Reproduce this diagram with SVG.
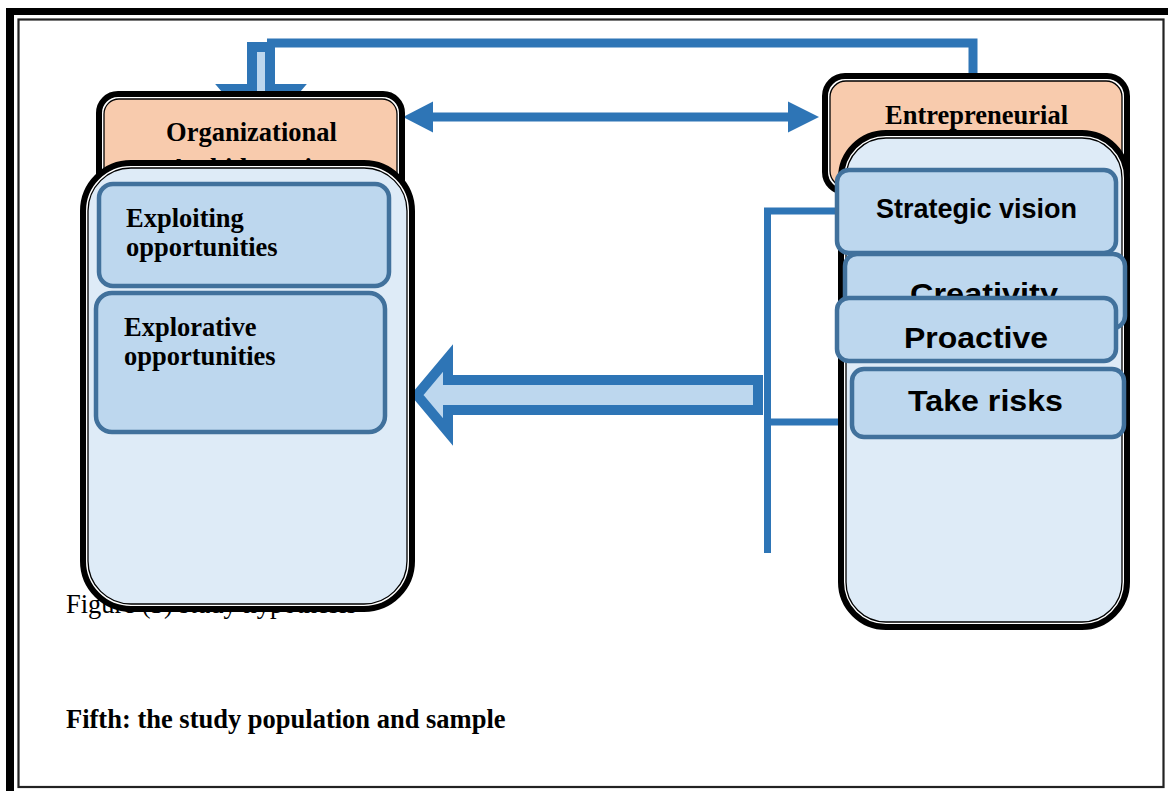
<svg xmlns="http://www.w3.org/2000/svg" width="1168" height="791" viewBox="0 0 1168 791">
<style>
.serif{font-family:"Liberation Serif","Times New Roman",serif;font-size:26.5px;fill:#000}
.b{font-weight:bold}
.sans{font-family:"Liberation Sans",Arial,sans-serif;font-weight:bold;fill:#000}
.conn{stroke:#2E75B6;fill:none;stroke-linejoin:miter;stroke-miterlimit:10}
.head{fill:#2E75B6}
.hollow{stroke:#2E75B6;stroke-width:10;fill:#BDD7EE;stroke-linejoin:miter;stroke-miterlimit:10}
.outer{fill:#fff;stroke:#000;stroke-width:6}
.innerO{fill:#F8CBAD;stroke:#000;stroke-width:1.3}
.innerB{fill:#DEEBF7;stroke:#000;stroke-width:1.3}
.item{fill:#BDD7EE;stroke:#41719C;stroke-width:4.5}
</style>
<rect x="0" y="0" width="1168" height="791" fill="#fff"/>
<g id="page-border">
<rect x="6" y="8" width="8" height="783" fill="#000"/>
<rect x="6" y="8" width="1162" height="7" fill="#000"/>
<rect x="18.5" y="19.5" width="1145" height="767.5" fill="none" stroke="#222" stroke-width="2.2"/>
</g>
<g id="captions">
<text class="serif" x="66" y="613">Figure (3) study hypothesis</text>
<text class="serif b" x="66" y="728">Fifth: the study population and sample</text>
</g>
<g id="connectors">
<polyline class="conn" stroke-width="9" points="973,76 973,43 267,43"/>
<path class="hollow" d="M252,47 L270,47 L270,89 L296,89 L261,130 L226,89 L252,89 Z"/>
<line class="conn" stroke-width="9" x1="430" y1="117" x2="791" y2="117"/>
<polygon class="head" points="403,117 433,101.5 433,132.5"/>
<polygon class="head" points="819,117 788,101.5 788,132.5"/>
<polyline class="conn" stroke-width="7" points="836,211 767.5,211 767.5,553"/>
<line class="conn" stroke-width="7" x1="767.5" y1="422" x2="851" y2="422"/>
<path class="hollow" d="M758,380 L448,380 L448,358 L417,395 L448,432 L448,410 L758,410 Z"/>
</g>
<g id="node-organizational">
<rect class="outer" x="99" y="94" width="303" height="200" rx="19"/>
<rect class="innerO" x="104" y="99" width="293" height="190" rx="15"/>
<text class="serif b" x="251.5" y="141" text-anchor="middle">Organizational</text>
<text class="serif b" x="251.5" y="177" text-anchor="middle">Ambidexterity</text>
</g>
<g id="node-entrepreneurial">
<rect class="outer" x="825" y="76" width="302" height="116" rx="20"/>
<rect class="innerO" x="830" y="81" width="292" height="106" rx="16"/>
<text class="serif b" x="976.5" y="124" text-anchor="middle">Entrepreneurial</text>
</g>
<g id="node-left-container">
<rect class="outer" x="83" y="163" width="329" height="446" rx="48"/>
<rect class="innerB" x="88" y="168" width="319" height="436" rx="43"/>
</g>
<g id="node-exploiting">
<rect class="item" x="99" y="184" width="290" height="102" rx="14"/>
<text class="serif b" x="126" y="227">Exploiting</text>
<text class="serif b" x="126" y="256">opportunities</text>
</g>
<g id="node-explorative">
<rect class="item" x="96" y="293" width="289" height="139" rx="16"/>
<text class="serif b" x="124" y="336">Explorative</text>
<text class="serif b" x="124" y="365">opportunities</text>
</g>
<g id="node-right-container">
<rect class="outer" x="841" y="133" width="286" height="494" rx="45"/>
<rect class="innerB" x="846" y="138" width="276" height="484" rx="40"/>
</g>
<g id="node-strategic-vision">
<rect class="item" x="837" y="170" width="279" height="83" rx="12"/>
<text class="sans" x="976.5" y="218" font-size="27.5" text-anchor="middle" textLength="201" lengthAdjust="spacingAndGlyphs">Strategic vision</text>
</g>
<g id="node-creativity">
<rect class="item" x="845" y="254" width="280" height="74" rx="12"/>
<text class="sans" x="984" y="304" font-size="30" text-anchor="middle" textLength="148" lengthAdjust="spacingAndGlyphs">Creativity</text>
</g>
<g id="node-proactive">
<rect class="item" x="837" y="298" width="279" height="63" rx="12"/>
<text class="sans" x="976" y="348" font-size="29" text-anchor="middle" textLength="144" lengthAdjust="spacingAndGlyphs">Proactive</text>
</g>
<g id="node-take-risks">
<rect class="item" x="852" y="369" width="272" height="68" rx="12"/>
<text class="sans" x="985.5" y="411" font-size="30" text-anchor="middle" textLength="155" lengthAdjust="spacingAndGlyphs">Take risks</text>
</g>
</svg>
